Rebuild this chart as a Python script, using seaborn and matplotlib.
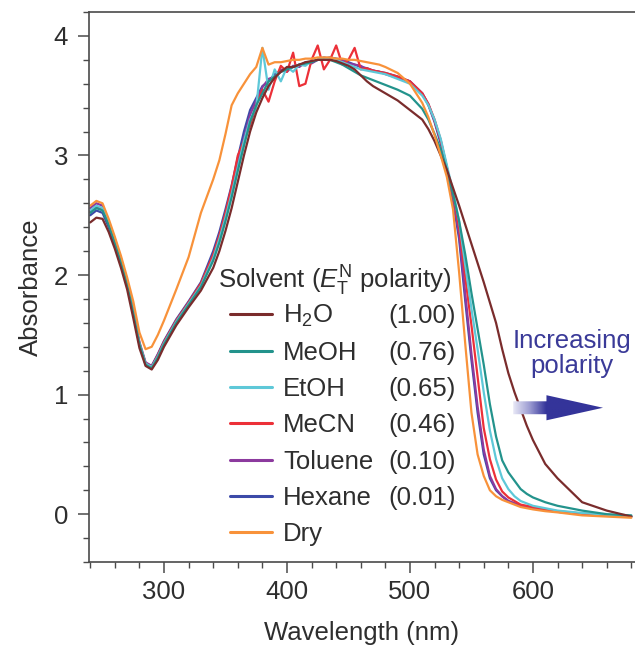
import numpy as np
import pandas as pd
import matplotlib
matplotlib.use("Agg")
import matplotlib.pyplot as plt
from matplotlib.patches import Polygon
from matplotlib.colors import LinearSegmentedColormap
from matplotlib.ticker import MultipleLocator
import seaborn as sns

# Wavelength grid (nm)
wavelength = [240, 245, 250, 255, 260, 265, 270, 275, 280, 285, 290, 295, 300,
              310, 320, 330, 340, 345, 350, 355, 360, 365, 370, 375, 380, 385,
              390, 395, 400, 405, 410, 415, 420, 425, 430, 435, 440, 445, 450,
              455, 460, 465, 470, 475, 480, 490, 500, 510, 515, 520, 525, 530,
              535, 540, 545, 550, 555, 560, 565, 570, 575, 580, 585, 590, 595,
              600, 610, 620, 640, 660, 680]

# Absorbance, one list per solvent
h2o = [2.44, 2.48, 2.47, 2.36, 2.22, 2.06, 1.88, 1.64, 1.39, 1.24, 1.21, 1.29, 1.40,
       1.58, 1.73, 1.87, 2.06, 2.20, 2.37, 2.56, 2.78, 3.00, 3.20, 3.36, 3.48, 3.58,
       3.65, 3.70, 3.74, 3.74, 3.76, 3.78, 3.79, 3.80, 3.80, 3.80, 3.79, 3.77, 3.75,
       3.72, 3.67, 3.62, 3.58, 3.55, 3.52, 3.46, 3.38, 3.30, 3.22, 3.12, 3.00, 2.88,
       2.73, 2.58, 2.42, 2.26, 2.10, 1.94, 1.77, 1.60, 1.38, 1.18, 1.02, 0.88, 0.74,
       0.62, 0.42, 0.30, 0.10, 0.03, -0.02]
meoh = [2.52, 2.56, 2.54, 2.42, 2.27, 2.11, 1.92, 1.68, 1.42, 1.25, 1.22, 1.31, 1.42,
        1.60, 1.75, 1.90, 2.12, 2.27, 2.45, 2.65, 2.87, 3.08, 3.28, 3.42, 3.52, 3.62,
        3.66, 3.70, 3.72, 3.74, 3.76, 3.77, 3.78, 3.80, 3.80, 3.80, 3.78, 3.76, 3.73,
        3.70, 3.67, 3.65, 3.63, 3.61, 3.59, 3.55, 3.50, 3.39, 3.30, 3.18, 3.05, 2.88,
        2.68, 2.45, 2.17, 1.85, 1.55, 1.25, 0.92, 0.65, 0.45, 0.35, 0.28, 0.21, 0.17,
        0.14, 0.10, 0.07, 0.03, 0.0, -0.01]
etoh = [2.54, 2.58, 2.56, 2.44, 2.28, 2.12, 1.93, 1.69, 1.43, 1.26, 1.23, 1.32, 1.43,
        1.61, 1.76, 1.91, 2.14, 2.30, 2.48, 2.68, 2.90, 3.12, 3.30, 3.40, 3.90, 3.55,
        3.72, 3.62, 3.74, 3.70, 3.76, 3.75, 3.79, 3.80, 3.82, 3.80, 3.80, 3.78, 3.76,
        3.74, 3.72, 3.71, 3.70, 3.69, 3.68, 3.64, 3.60, 3.50, 3.42, 3.30, 3.14, 2.92,
        2.70, 2.45, 2.08, 1.72, 1.38, 1.02, 0.70, 0.46, 0.30, 0.21, 0.15, 0.11, 0.09,
        0.07, 0.05, 0.03, 0.01, -0.005, -0.015]
mecn = [2.53, 2.57, 2.55, 2.43, 2.28, 2.12, 1.93, 1.69, 1.43, 1.26, 1.23, 1.33, 1.44,
        1.62, 1.77, 1.93, 2.17, 2.33, 2.52, 2.74, 3.00, 3.12, 3.25, 3.42, 3.55, 3.45,
        3.62, 3.75, 3.70, 3.86, 3.58, 3.60, 3.80, 3.92, 3.72, 3.80, 3.92, 3.76, 3.80,
        3.90, 3.72, 3.73, 3.71, 3.70, 3.69, 3.66, 3.62, 3.52, 3.43, 3.30, 3.13, 2.90,
        2.68, 2.40, 1.98, 1.58, 1.15, 0.72, 0.46, 0.29, 0.19, 0.14, 0.11, 0.08, 0.07,
        0.06, 0.04, 0.025, 0.005, -0.01, -0.02]
toluene = [2.56, 2.60, 2.58, 2.45, 2.30, 2.14, 1.95, 1.70, 1.44, 1.27, 1.24, 1.33, 1.44,
           1.62, 1.77, 1.92, 2.16, 2.32, 2.50, 2.70, 2.92, 3.14, 3.34, 3.46, 3.57, 3.64,
           3.66, 3.72, 3.70, 3.75, 3.74, 3.78, 3.77, 3.80, 3.82, 3.81, 3.80, 3.80, 3.77,
           3.76, 3.75, 3.72, 3.71, 3.70, 3.68, 3.65, 3.62, 3.52, 3.43, 3.29, 3.12, 2.90,
           2.65, 2.34, 1.84, 1.34, 0.90, 0.54, 0.32, 0.21, 0.15, 0.11, 0.09, 0.07, 0.06,
           0.05, 0.035, 0.02, 0.0, -0.01, -0.02]
hexane = [2.50, 2.54, 2.52, 2.40, 2.25, 2.10, 1.92, 1.68, 1.42, 1.26, 1.24, 1.34, 1.45,
          1.63, 1.78, 1.94, 2.20, 2.36, 2.55, 2.75, 2.98, 3.20, 3.38, 3.48, 3.58, 3.62,
          3.68, 3.70, 3.72, 3.74, 3.76, 3.77, 3.78, 3.80, 3.81, 3.82, 3.81, 3.80, 3.78,
          3.76, 3.74, 3.73, 3.71, 3.70, 3.69, 3.66, 3.62, 3.52, 3.42, 3.28, 3.10, 2.88,
          2.62, 2.30, 1.78, 1.29, 0.85, 0.50, 0.30, 0.20, 0.15, 0.11, 0.09, 0.07, 0.06,
          0.05, 0.035, 0.02, 0.0, -0.01, -0.02]
dry = [2.58, 2.62, 2.60, 2.47, 2.32, 2.16, 1.98, 1.78, 1.52, 1.38, 1.40, 1.50, 1.62,
       1.88, 2.15, 2.52, 2.80, 2.96, 3.18, 3.42, 3.52, 3.60, 3.68, 3.74, 3.90, 3.76,
       3.78, 3.78, 3.79, 3.80, 3.80, 3.81, 3.81, 3.82, 3.82, 3.82, 3.81, 3.81, 3.80,
       3.80, 3.79, 3.78, 3.77, 3.76, 3.74, 3.69, 3.60, 3.44, 3.32, 3.17, 3.00, 2.82,
       2.55, 2.02, 1.42, 0.85, 0.50, 0.32, 0.20, 0.15, 0.12, 0.10, 0.08, 0.06, 0.05,
       0.04, 0.025, 0.015, -0.01, -0.02, -0.03]

solvents = ["H$_2$O", "MeOH", "EtOH", "MeCN", "Toluene", "Hexane", "Dry"]
polarity = ["(1.00)", "(0.76)", "(0.65)", "(0.46)", "(0.10)", "(0.01)", ""]
colors = ["#7a2c2c", "#23938c", "#5ec8d8", "#ec3038", "#8c3a9e", "#3c4aa8", "#f8923a"]
series = [h2o, meoh, etoh, mecn, toluene, hexane, dry]

df = pd.concat([pd.DataFrame({"wavelength": wavelength, "absorbance": s, "solvent": name})
                for name, s in zip(solvents, series)], ignore_index=True)

sns.set_style("ticks")
plt.rcParams["font.family"] = ["Liberation Sans", "DejaVu Sans"]
plt.rcParams["mathtext.fontset"] = "custom"
plt.rcParams["mathtext.rm"] = "Liberation Sans"
plt.rcParams["mathtext.it"] = "Liberation Sans:italic"
fs = 18.5
plt.rcParams["font.size"] = fs
text_color = "#2e2e2e"

W, H = 635, 645
fig = plt.figure(figsize=(W / 100, H / 100), dpi=100)
ax = fig.add_axes([89 / W, 83 / H, 1 - 89 / W, 550 / H])

draw_order = ["Hexane", "Toluene", "MeCN", "EtOH", "MeOH", "H$_2$O", "Dry"]
sns.lineplot(data=df, x="wavelength", y="absorbance", hue="solvent",
             hue_order=draw_order, palette=dict(zip(solvents, colors)),
             estimator=None, sort=False, lw=1.6, ax=ax)

# legend in the original order; title drawn separately
handles, labels = ax.get_legend_handles_labels()
lookup = dict(zip(labels, handles))
leg = ax.legend([lookup[s] for s in solvents], solvents,
                frameon=False, loc="upper left",
                bbox_to_anchor=(230 / W, 1 - 303 / H), bbox_transform=fig.transFigure,
                borderpad=0, borderaxespad=0, handlelength=1.65, handletextpad=0.42,
                labelspacing=0.47, fontsize=fs)
for line in leg.get_lines():
    line.set_linewidth(2.2)
for t in leg.get_texts():
    t.set_color(text_color)
fig.text(218 / W, 1 - 289 / H, r"Solvent ($E_{\mathrm{T}}^{\mathrm{N}}$ polarity)",
         ha="left", va="baseline", fontsize=fs, color=text_color)

# axes
ax.set_xlim(239, 683)
ax.set_ylim(-0.4, 4.2)
ax.set_xticks([300, 400, 500, 600])
ax.set_yticks([0, 1, 2, 3, 4])
ax.xaxis.set_minor_locator(MultipleLocator(20))
ax.yaxis.set_minor_locator(MultipleLocator(0.2))
ax.tick_params(which="major", direction="out", length=8, width=1.1, colors="#4a4a4a",
               labelcolor=text_color, labelsize=fs)
ax.tick_params(which="minor", direction="out", length=4.5, width=1.0, colors="#4a4a4a")
ax.tick_params(axis="x", pad=5)
ax.tick_params(axis="y", pad=7)
ax.spines["right"].set_visible(False)
for s in ["left", "bottom", "top"]:
    ax.spines[s].set_color("#4a4a4a")
    ax.spines[s].set_linewidth(1.2)
ax.set_xlabel("Wavelength (nm)", fontsize=fs, color=text_color, labelpad=12)
ax.set_ylabel("Absorbance", fontsize=fs, color=text_color, labelpad=8)

# gradient arrow
yc = 0.89
arrow = Polygon([(584, yc - 0.054), (611, yc - 0.054), (611, yc - 0.105), (657, yc),
                 (611, yc + 0.105), (611, yc + 0.054), (584, yc + 0.054)],
                closed=True, facecolor="none", edgecolor="none")
ax.add_patch(arrow)
ramp = np.clip(np.linspace(0, 1, 300) * (657 - 584) / (611 - 584), 0, 1).reshape(1, -1)
cmap = LinearSegmentedColormap.from_list("arrow", ["#e8e8f6", "#9c9cd2", "#34349a"])
im = ax.imshow(ramp, extent=[584, 657, yc - 0.11, yc + 0.11], aspect="auto",
               cmap=cmap, vmin=0, vmax=1, zorder=3)
im.set_clip_path(arrow)
ax.text(632, 1.34, "Increasing\npolarity", ha="center", va="center",
        color="#3a3a98", fontsize=fs, linespacing=1.05)
ax.set_xlim(239, 683)
ax.set_ylim(-0.4, 4.2)

# polarity values, right-aligned in a column
fig.canvas.draw()
inv = fig.transFigure.inverted()
for t, val in zip(leg.get_texts(), polarity):
    base = t.get_transform().transform((0, 0))
    fx, fy = inv.transform((456, base[1]))
    fig.text(fx, fy, val, ha="right", va="baseline", fontsize=fs, color=text_color)

fig.savefig("out.png", dpi=100)
